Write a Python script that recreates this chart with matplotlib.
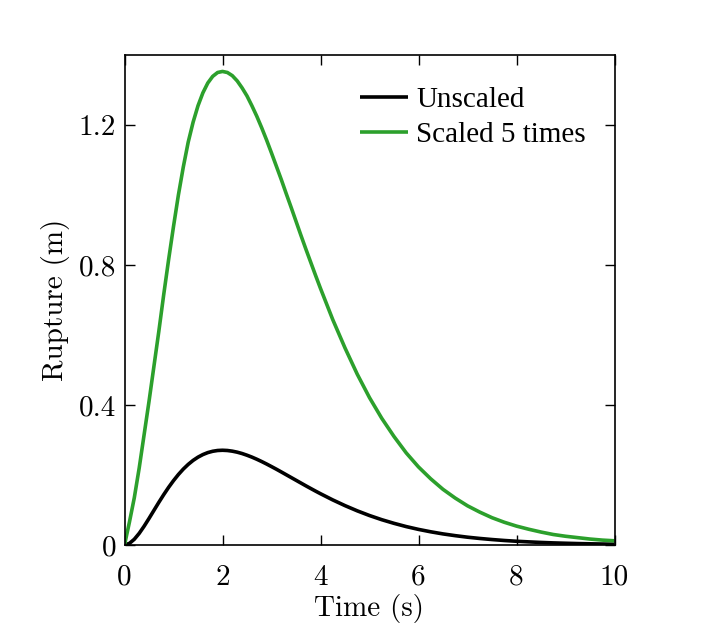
import matplotlib
matplotlib.use("Agg")
import matplotlib.pyplot as plt

# Time samples (s)
time = [0, 0.1, 0.2, 0.3, 0.4, 0.5, 0.6, 0.7, 0.8, 0.9, 1.0, 1.1, 1.2, 1.3,
        1.4, 1.5, 1.6, 1.7, 1.8, 1.9, 2.0, 2.1, 2.2, 2.3, 2.4, 2.5, 2.6,
        2.7, 2.8, 2.9, 3.0, 3.1, 3.2, 3.3, 3.4, 3.5, 3.6, 3.7, 3.8, 3.9,
        4.0, 4.25, 4.5, 4.75, 5.0, 5.25, 5.5, 5.75, 6.0, 6.25, 6.5, 6.75,
        7.0, 7.25, 7.5, 7.75, 8.0, 8.25, 8.5, 8.75, 9.0, 9.25, 9.5, 9.75, 10.0]

# Unscaled rupture (m)
unscaled = [0, 0.0045, 0.0164, 0.0333, 0.0536, 0.0758, 0.0988, 0.1217,
            0.1438, 0.1647, 0.1839, 0.2014, 0.2169, 0.2303, 0.2417, 0.2510,
            0.2584, 0.2640, 0.2678, 0.2700, 0.2707, 0.2700, 0.2681, 0.2652,
            0.2613, 0.2565, 0.2511, 0.2450, 0.2384, 0.2314, 0.2240, 0.2165,
            0.2087, 0.2008, 0.1929, 0.1850, 0.1771, 0.1692, 0.1615, 0.1539,
            0.1465, 0.1288, 0.1125, 0.0976, 0.0842, 0.0723, 0.0619, 0.0526,
            0.0446, 0.0377, 0.0317, 0.0267, 0.0223, 0.0187, 0.0156, 0.0129,
            0.0107, 0.0089, 0.0073, 0.0060, 0.0050, 0.0041, 0.0034, 0.0028,
            0.0023]

# Scaled 5 times rupture (m)
scaled = [0, 0.065, 0.135, 0.220, 0.315, 0.410, 0.510, 0.610, 0.715, 0.815,
          0.910, 1.000, 1.080, 1.151, 1.208, 1.255, 1.292, 1.320, 1.339,
          1.350, 1.353, 1.350, 1.341, 1.326, 1.306, 1.283, 1.255, 1.225,
          1.192, 1.157, 1.120, 1.082, 1.044, 1.004, 0.965, 0.925, 0.885,
          0.846, 0.808, 0.770, 0.733, 0.644, 0.563, 0.488, 0.421, 0.362,
          0.310, 0.263, 0.223, 0.189, 0.159, 0.134, 0.112, 0.094, 0.078,
          0.065, 0.054, 0.045, 0.037, 0.030, 0.025, 0.021, 0.017, 0.014,
          0.012]

xticks = [0, 2, 4, 6, 8, 10]
xticklabels = ["0", "2", "4", "6", "8", "10"]
yticks = [0, 0.4, 0.8, 1.2]
yticklabels = ["0", "0.4", "0.8", "1.2"]

cm = "cmr10"
tick_fs = 21
label_fs = 21
leg_fs = 21

fig = plt.figure(figsize=(7.06, 6.27), dpi=100)
ax = fig.add_axes([124.5 / 706, (627 - 545) / 627, 490 / 706, 490 / 627])

ax.plot(time, unscaled, color="black", lw=2.6, label="Unscaled", solid_capstyle="butt")
ax.plot(time, scaled, color="#2ca02c", lw=2.6, label="Scaled 5 times", solid_capstyle="butt")

ax.set_xlim(0, 10)
ax.set_ylim(0, 1.4)
ax.set_xticks(xticks)
ax.set_xticklabels(xticklabels, fontfamily=cm, fontsize=tick_fs)
ax.set_yticks(yticks)
ax.set_yticklabels(yticklabels, fontfamily=cm, fontsize=tick_fs)
ax.tick_params(direction="in", length=7, width=1, top=True, right=True)
ax.tick_params(axis="x", pad=14)
ax.tick_params(axis="y", pad=6)
for s in ax.spines.values():
    s.set_linewidth(1.2)

ax.set_xlabel("Time (s)", fontfamily=cm, fontsize=label_fs, labelpad=2)
ax.set_ylabel("Rupture (m)", fontfamily=cm, fontsize=label_fs, labelpad=6)

leg = ax.legend(loc="upper left", bbox_to_anchor=((360 - 124.5) / 490, (545 - 87) / 490),
                frameon=False, borderpad=0, borderaxespad=0, handlelength=1.65,
                handletextpad=0.28, labelspacing=0.29,
                prop={"family": "Liberation Serif", "size": leg_fs})

fig.savefig("out.png", dpi=100)
